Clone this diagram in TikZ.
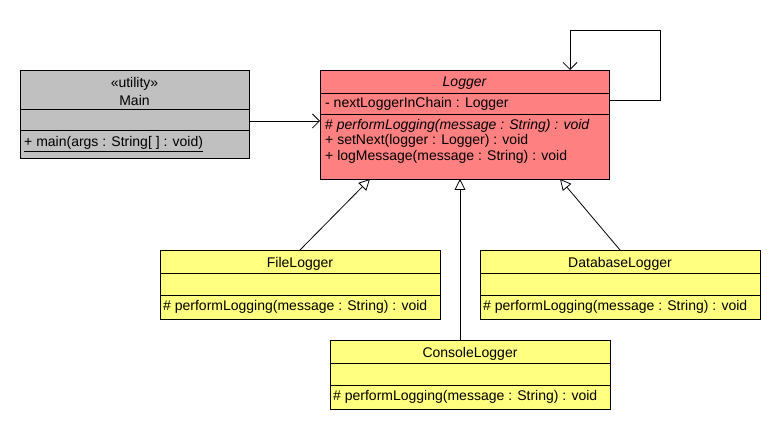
\documentclass[tikz,border=0pt]{standalone}
\usepackage{fontspec}
\setmainfont{Liberation Sans}
\usetikzlibrary{arrows.meta}
\definecolor{maingray}{HTML}{C0C0C0}
\definecolor{loggerred}{HTML}{FF8080}
\definecolor{subyellow}{HTML}{FFFF80}
\begin{document}
\begin{tikzpicture}[x=1pt,y=-1pt,
  box/.style={draw=black, line width=0.8pt, anchor=north west, inner sep=0pt, outer sep=0pt},
  txt/.style={inner sep=0pt, font=\fontsize{14}{16}\selectfont},
  ltxt/.style={txt, anchor=west},
  conn/.style={draw=black, line width=0.8pt},
  assoc/.style={conn, -{Straight Barb[length=7pt,width=14pt,line width=0.8pt]}},
  gen/.style={conn, -{Triangle[open,length=11pt,width=11pt,line width=0.8pt,fill=white]}}
]
\useasboundingbox (0,0) rectangle (780,430);
% Main
\node[box, fill=maingray, minimum width=229pt, minimum height=88pt] (main) at (20,70) {};
\draw[line width=0.8pt] (20,109) -- (249,109) (20,130) -- (249,130);
\node[txt] (mainst) at (134.5,84) {«utility»};
\node[txt] (mainname) at (134.5,100) {Main};
\node[ltxt] (mainop) at (24,144) {\underline{+ main(args : String[ ] : void)}};
% Logger
\node[box, fill=loggerred, minimum width=289pt, minimum height=109pt] (logger) at (320,70) {};
\draw[line width=0.8pt] (320,93) -- (609,93) (320,114) -- (609,114);
\node[txt] (loggername) at (464.5,83) {\itshape Logger};
\node[ltxt] (loggerattr) at (325,104) {- nextLoggerInChain : Logger};
\node[ltxt] (loggerop1) at (325,125.5) {\# \itshape performLogging(message : String) : void};
\node[ltxt] (loggerop2) at (325,141) {+ setNext(logger : Logger) : void};
\node[ltxt] (loggerop3) at (325,157) {+ logMessage(message : String) : void};
% FileLogger
\node[box, fill=subyellow, minimum width=280pt, minimum height=69pt] (file) at (160,250) {};
\draw[line width=0.8pt] (160,273) -- (440,273) (160,295) -- (440,295);
\node[txt] (filename) at (300,264) {FileLogger};
\node[ltxt] (fileop) at (163,306.5) {\# performLogging(message : String) : void};
% DatabaseLogger
\node[box, fill=subyellow, minimum width=280pt, minimum height=69pt] (db) at (480,250) {};
\draw[line width=0.8pt] (480,273) -- (760,273) (480,295) -- (760,295);
\node[txt] (dbname) at (620,264) {DatabaseLogger};
\node[ltxt] (dbop) at (483,306.5) {\# performLogging(message : String) : void};
% ConsoleLogger
\node[box, fill=subyellow, minimum width=280pt, minimum height=69pt] (console) at (330,340) {};
\draw[line width=0.8pt] (330,363) -- (610,363) (330,385) -- (610,385);
\node[txt] (consolename) at (470,354) {ConsoleLogger};
\node[ltxt] (consoleop) at (333,396.5) {\# performLogging(message : String) : void};
% connectors
\draw[assoc] (main.east |- 0,121) -- (logger.west |- 0,121);
\coordinate (loopa) at (660,100);
\coordinate (loopb) at (660,30);
\coordinate (loopc) at (570,30);
\draw[assoc] (logger.east |- loopa) -- (loopa) -- (loopb) -- (loopc) -- (loopc |- logger.north);
\draw[gen] (file.north -| 300,0) -- (370,179);
\draw[gen] (console.north -| 460,0) -- (460,179);
\draw[gen] (db.north -| 620,0) -- (560,179);
\end{tikzpicture}
\end{document}
